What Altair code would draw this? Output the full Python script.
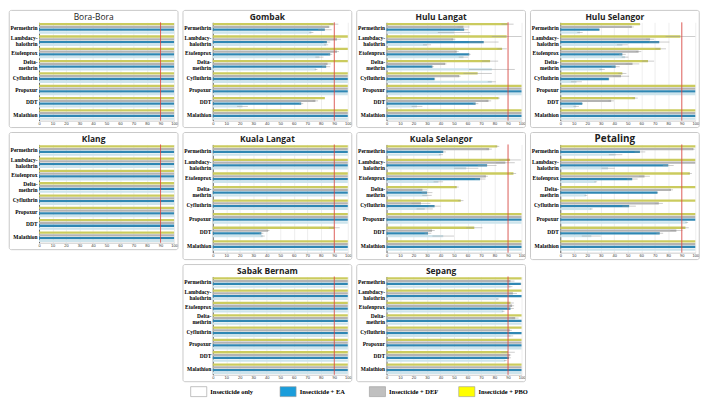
import altair as alt
import pandas as pd

insecticides = ["Permethrin", "Lambdacy-|halothrin", "Etofenprox", "Delta-|methrin",
                "Cyfluthrin", "Propoxur", "DDT", "Malathion"]
treatments = ["PBO", "DEF", "EA", "only"]
bar_colors = ["#cbcb5e", "#b3b3b3", "#2f87b3", "#cde4ec"]

legend_labels = ["Insecticide only", "Insecticide + EA", "Insecticide + DEF", "Insecticide + PBO"]
legend_fills = ["#ffffff", "#1a9ddb", "#c0c0c0", "#ffff00"]

ALL100 = [100, 100, 100, 100, 100, 100, 100, 100]
NOERR = [0, 0, 0, 0, 0, 0, 0, 0]

# mortality (%) per district, order = insecticides
PBO = {
    "Bora-Bora": ALL100,
    "Gombak": [89.5, 100, 100, 100, 100, 100, 83, 100],
    "Hulu Langat": [89.6, 89, 85.6, 76.7, 67.5, 100, 83, 100],
    "Hulu Selangor": [59, 89, 74.3, 65, 46, 100, 55.4, 100],
    "Klang": ALL100,
    "Kuala Langat": [100, 100, 100, 100, 100, 100, 90, 100],
    "Kuala Selangor": [82, 91.5, 94, 52, 55, 100, 65, 100],
    "Petaling": [100, 100, 96, 100, 100, 100, 92.7, 100],
    "Sabak Bernam": ALL100,
    "Sepang": [100, 100, 91.8, 100, 100, 100, 90, 100],
}
DEF = {
    "Bora-Bora": ALL100,
    "Gombak": [86, 92, 92, 85, 100, 100, 76, 100],
    "Hulu Langat": [57, 49.5, 52, 43.4, 53.8, 100, 75.5, 100],
    "Hulu Selangor": [53, 66.5, 58, 53.5, 45, 100, 37.7, 100],
    "Klang": ALL100,
    "Kuala Langat": [100, 100, 100, 100, 100, 100, 41, 100],
    "Kuala Selangor": [76, 88, 73.6, 26.6, 25.5, 100, 33.7, 100],
    "Petaling": [98.6, 100, 62.4, 82, 73, 100, 86, 100],
    "Sabak Bernam": ALL100,
    "Sepang": [91.8, 93.6, 93, 95.3, 91.3, 100, 91.3, 100],
}
EA = {
    "Bora-Bora": ALL100,
    "Gombak": [83, 84.5, 87, 84, 100, 100, 65.5, 100],
    "Hulu Langat": [57.5, 72, 61.3, 34, 35.6, 100, 66, 100],
    "Hulu Selangor": [29, 73.3, 46, 41, 36, 100, 16.3, 100],
    "Klang": ALL100,
    "Kuala Langat": [100, 100, 100, 100, 100, 100, 36, 100],
    "Kuala Selangor": [42, 74.5, 69.3, 30, 35.6, 100, 30.7, 100],
    "Petaling": [59, 80, 53.3, 72, 51, 100, 73.7, 100],
    "Sabak Bernam": ALL100,
    "Sepang": [99.5, 100, 91.8, 100, 100, 100, 90.6, 100],
}
ONLY = {
    "Bora-Bora": ALL100,
    "Gombak": [73, 84, 79, 76.5, 100, 100, 22, 100],
    "Hulu Langat": [50, 30, 57, 78, 78, 100, 22.6, 100],
    "Hulu Selangor": [14.6, 46, 48, 31, 12, 100, 11.8, 100],
    "Klang": ALL100,
    "Kuala Langat": [100, 100, 100, 100, 100, 100, 37, 100],
    "Kuala Selangor": [40.3, 59, 38.4, 30, 28.3, 100, 42, 100],
    "Petaling": [41, 35.4, 26.3, 19, 23, 93.7, 23, 100],
    "Sabak Bernam": ALL100,
    "Sepang": [91.8, 82.4, 86.4, 100, 91.8, 100, 88, 100],
}

PBO_ERR = {
    "Gombak": [3.5, 0, 0, 0, 0, 0, 0, 0],
    "Hulu Langat": [4.5, 11, 3.5, 6, 10.5, 0, 1, 0],
    "Hulu Selangor": [0.5, 11, 4, 4.5, 3, 0, 2, 0],
    "Kuala Langat": [0, 0, 0, 0, 0, 0, 4, 0],
    "Kuala Selangor": [1.5, 8, 2, 1.5, 2, 0, 6, 0],
    "Petaling": [0, 0, 1.5, 0, 0, 0, 2.5, 0],
    "Sepang": [0, 0, 2.5, 0, 0, 0, 5, 0],
}
DEF_ERR = {
    "Gombak": [1, 3, 1.5, 2.5, 0, 0, 2, 0],
    "Hulu Langat": [4.5, 1.5, 1.5, 1, 1, 0, 2, 0],
    "Hulu Selangor": [1.5, 3, 2, 5, 6, 0, 2, 0],
    "Kuala Langat": [0, 0, 0, 0, 0, 0, 1, 0],
    "Kuala Selangor": [2, 7, 1.5, 3.5, 7, 0, 2, 0],
    "Petaling": [1, 0, 4, 1.5, 3, 0, 4.5, 0],
    "Sepang": [3, 3, 1.5, 2.5, 1.5, 0, 1, 0],
}
EA_ERR = {
    "Gombak": [5, 2.5, 1.5, 3, 0, 0, 1.5, 0],
    "Hulu Langat": [3, 11, 1, 1, 0.5, 0, 2, 0],
    "Hulu Selangor": [0.5, 7.5, 2.5, 3, 0.5, 0, 0.5, 0],
    "Kuala Langat": [0, 0, 0, 0, 0, 0, 1.5, 0],
    "Kuala Selangor": [2, 7, 4, 4, 4.5, 0, 2.5, 0],
    "Petaling": [4, 4, 4, 0.5, 5, 0, 2.5, 0],
    "Sepang": [0.5, 0, 2.5, 0, 0, 0, 1.5, 0],
}
ONLY_ERR = {
    "Gombak": [1.5, 1.5, 3, 1, 0, 0, 4, 0],
    "Hulu Langat": [12, 3, 3.5, 17, 3, 0, 4, 0],
    "Hulu Selangor": [2, 4, 2.5, 2, 4, 0, 2, 0],
    "Kuala Langat": [0, 0, 0, 0, 0, 0, 1.5, 0],
    "Kuala Selangor": [1.5, 9, 3.5, 3.5, 6, 0, 8, 0],
    "Petaling": [5, 5, 1, 1, 1, 1, 7, 0],
    "Sepang": [1.5, 1, 1, 0, 2, 0, 1, 0],
}

SERIES = [("PBO", PBO, PBO_ERR), ("DEF", DEF, DEF_ERR), ("EA", EA, EA_ERR), ("only", ONLY, ONLY_ERR)]
one = pd.DataFrame({"a": [0]})

XAXIS = alt.Axis(values=list(range(0, 101, 10)), labelFontSize=4, ticks=False,
                 labelPadding=1, grid=True, gridColor="#e2e2e2", gridWidth=0.6,
                 domainColor="#cccccc", labelColor="#333", labelFlush=False,
                 labelOverlap=False, title=None)
YAXIS = alt.Axis(labelExpr="split(datum.label, '|')", ticks=False, domain=True,
                 domainColor="#666", labelFont="Liberation Serif",
                 labelFontWeight="bold", labelFontSize=5.5, labelPadding=2,
                 labelLineHeight=6, labelColor="#000", labelLimit=40, title=None,
                 labelOffset=alt.condition("indexof(datum.value, '|') >= 0",
                                           alt.value(-3), alt.value(0)))


def panel(name, H, W=136, bold=True, tsize=8.5):
    rows = []
    for t, vals, errs in SERIES:
        ev = errs.get(name, NOERR)
        for i, ins in enumerate(insecticides):
            v = vals[name][i]
            e = ev[i]
            rows.append({"ins": ins, "trt": t, "v": v, "e": e,
                         "lo": max(v - e, 0), "hi": min(v + e, 100)})
    df = pd.DataFrame(rows)
    base = alt.Chart(df)
    ysc = alt.Scale(paddingInner=0.14, paddingOuter=0.06)
    y = alt.Y("ins:N", sort=insecticides, title=None, scale=ysc, axis=YAXIS)
    yoff = alt.YOffset("trt:N", sort=treatments, scale=alt.Scale(paddingInner=0.18))
    xs = alt.Scale(domain=[0, 100], nice=False)
    bars = base.mark_bar().encode(
        x=alt.X("v:Q", scale=xs, axis=XAXIS), y=y, yOffset=yoff,
        color=alt.Color("trt:N", scale=alt.Scale(domain=treatments, range=bar_colors), legend=None))
    err = base.transform_filter("datum.e > 0").mark_rule(color="#999999", strokeWidth=0.5).encode(
        x=alt.X("lo:Q", scale=xs, axis=XAXIS), x2="hi:Q", y=y, yOffset=yoff)
    red = alt.Chart(one).mark_rule(color="#e0413a", strokeWidth=0.8).encode(
        x=alt.X(datum=90, scale=xs, axis=XAXIS))
    frame = alt.Chart(one).mark_rect(fillOpacity=0, stroke="#c9c9c9", strokeWidth=1,
                                     cornerRadius=2).encode(
        x=alt.value(-30), x2=alt.value(W + 4), y=alt.value(-12), y2=alt.value(H + 7))
    title = alt.Chart(one).mark_text(font="Open Sans", fontSize=tsize,
                                     fontWeight="bold" if bold else "normal",
                                     color="#222").encode(
        x=alt.value((W - 26) / 2), y=alt.value(-5), text=alt.value(name))
    return alt.layer(frame, bars, err, red, title).properties(width=W, height=H)


H1, H2 = 99, 109
row1 = alt.hconcat(panel("Bora-Bora", H1, bold=False), panel("Gombak", H1),
                   panel("Hulu Langat", H1), panel("Hulu Selangor", H1),
                   spacing=3).resolve_scale(x="independent", y="independent")
row2 = alt.hconcat(panel("Klang", H1), panel("Kuala Langat", H2),
                   panel("Kuala Selangor", H2), panel("Petaling", H2, tsize=10),
                   spacing=3).resolve_scale(x="independent", y="independent")
row3 = alt.hconcat(panel("Sabak Bernam", H1), panel("Sepang", H1),
                   spacing=3).resolve_scale(x="independent", y="independent")

leg_df = pd.DataFrame({"label": legend_labels, "idx": [0, 1, 2, 3], "fill": legend_fills})
leg_base = alt.Chart(leg_df).transform_calculate(x2="datum.idx + 0.18", tx="datum.idx + 0.22")
lxs = alt.Scale(domain=[0, 4], nice=False)
boxes = leg_base.mark_rect(stroke="#999999", strokeWidth=0.6).encode(
    x=alt.X("idx:Q", scale=lxs, axis=None), x2="x2:Q",
    y=alt.value(1), y2=alt.value(11), fill=alt.Fill("fill:N", scale=None))
texts = leg_base.mark_text(align="left", baseline="middle", font="Liberation Serif",
                           fontWeight="bold", fontSize=6.5).encode(
    x=alt.X("tx:Q", scale=lxs, axis=None), y=alt.value(6), text="label:N")
legend = alt.layer(boxes, texts).properties(width=360, height=12)

chart = alt.vconcat(row1, row2, row3, legend, spacing=3, center=True).resolve_scale(
    x="independent", y="independent").configure_view(strokeWidth=0).properties(padding=0)

chart.save("out.html", embed_options={"renderer": "svg", "actions": False})
